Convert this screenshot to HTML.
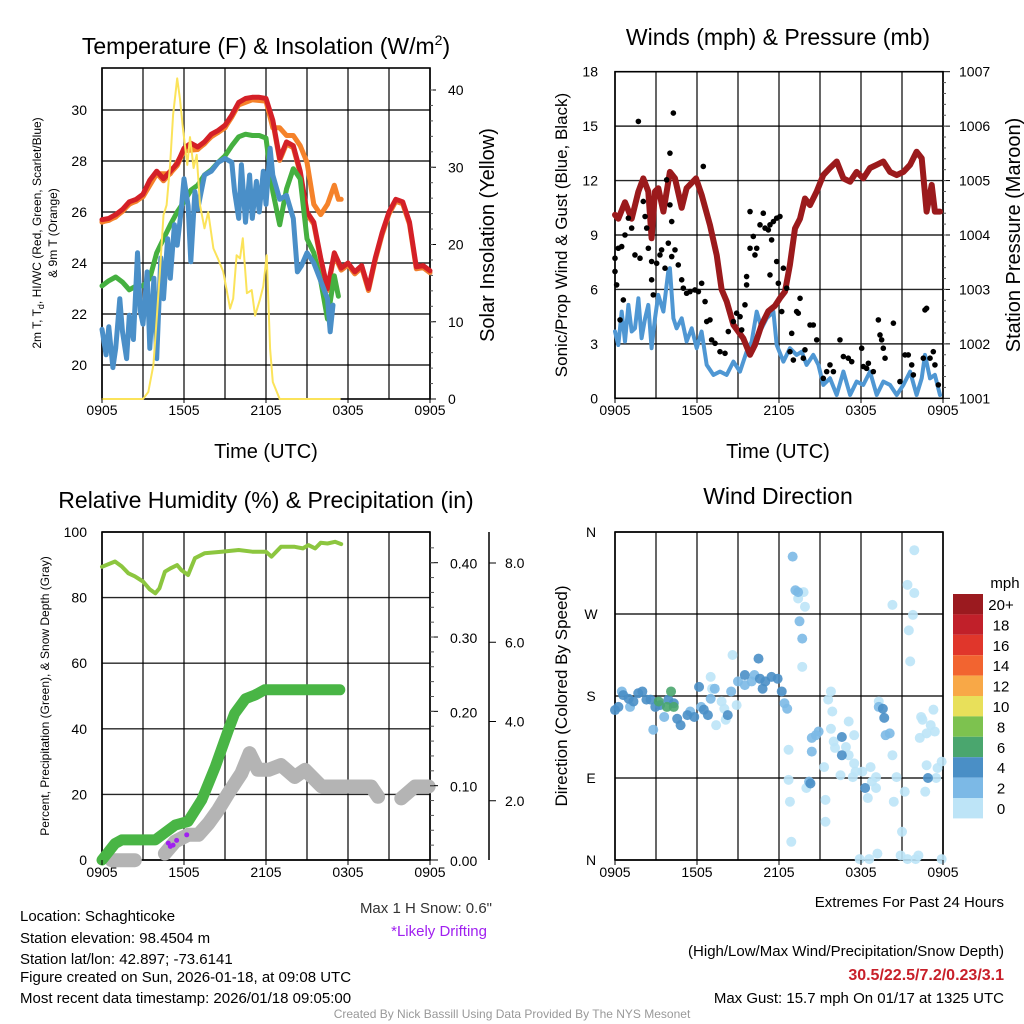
<!DOCTYPE html>
<html><head><meta charset="utf-8"><style>
html,body{margin:0;padding:0;background:#fff;}
svg{display:block;font-family:"Liberation Sans",sans-serif;}
</style></head><body>
<svg id="chart" width="1024" height="1024" viewBox="0 0 1024 1024" xmlns="http://www.w3.org/2000/svg">
<g id="static">
<text x="266" y="54" font-size="23" text-anchor="middle">Temperature (F) &amp; Insolation (W/m<tspan font-size="14" dy="-9">2</tspan><tspan dy="9">)</tspan></text>
<text transform="translate(41,233) rotate(-90)" font-size="12" text-anchor="middle">2m T, T<tspan font-size="9" dy="3">d</tspan><tspan dy="-3">, HI/WC (Red, Green, Scarlet/Blue)</tspan></text>
<text transform="translate(57,233) rotate(-90)" font-size="12" text-anchor="middle">&amp; 9m T (Orange)</text>
<text transform="translate(494,235) rotate(-90)" font-size="20" text-anchor="middle">Solar Insolation (Yellow)</text>
<text x="266" y="458" font-size="20" text-anchor="middle">Time (UTC)</text>
<text x="778" y="45" font-size="23" text-anchor="middle">Winds (mph) &amp; Pressure (mb)</text>
<text transform="translate(567,235) rotate(-90)" font-size="17" text-anchor="middle">Sonic/Prop Wind &amp; Gust (Blue, Black)</text>
<text transform="translate(1020,235) rotate(-90)" font-size="20" text-anchor="middle">Station Pressure (Maroon)</text>
<text x="778" y="458" font-size="20" text-anchor="middle">Time (UTC)</text>
<text x="266" y="508" font-size="23" text-anchor="middle">Relative Humidity (%) &amp; Precipitation (in)</text>
<text transform="translate(49,696) rotate(-90)" font-size="12" text-anchor="middle">Percent, Precipitation (Green), &amp; Snow Depth (Gray)</text>
<text x="492" y="913" font-size="15" text-anchor="end" fill="#333">Max 1 H Snow: 0.6"</text>
<text x="487" y="936" font-size="15" text-anchor="end" fill="#a020f0">*Likely Drifting</text>
<text x="778" y="504" font-size="23" text-anchor="middle">Wind Direction</text>
<text transform="translate(567,696) rotate(-90)" font-size="17" text-anchor="middle">Direction (Colored By Speed)</text>
<text x="1005" y="588" font-size="15" text-anchor="middle">mph</text>
<g font-size="15">
<text x="20" y="921">Location: Schaghticoke</text>
<text x="20" y="943">Station elevation: 98.4504 m</text>
<text x="20" y="964">Station lat/lon: 42.897; -73.6141</text>
<text x="20" y="982">Figure created on Sun, 2026-01-18, at 09:08 UTC</text>
<text x="20" y="1003">Most recent data timestamp: 2026/01/18 09:05:00</text>
</g>
<g font-size="15" text-anchor="end">
<text x="1004" y="907">Extremes For Past 24 Hours</text>
<text x="1004" y="956">(High/Low/Max Wind/Precipitation/Snow Depth)</text>
<text x="1004" y="980" fill="#c8202a" font-weight="bold" font-size="16">30.5/22.5/7.2/0.23/3.1</text>
<text x="1004" y="1003">Max Gust: 15.7 mph On 01/17 at 1325 UTC</text>
</g>
<text x="512" y="1018" font-size="12" text-anchor="middle" fill="#999">Created By Nick Bassill Using Data Provided By The NYS Mesonet</text>
</g>
</svg>
<script>
// ---------- Panel 1 data (hours since 0905 UTC) ----------
const halfHours = [0,0.5,1,1.5,2,2.5,3,3.5,4,4.5,5,5.5,6,6.5,7,7.5,8,8.5,9,9.5,10,10.5,11,11.5,12,12.5,13,13.5,14,14.5,15,15.5,16,16.5,17,17.5,18,18.5,19,19.5,20,20.5,21,21.5,22,22.5,23,23.5,24];
const tempRed = [25.7,25.75,25.9,26.1,26.4,26.5,26.7,27.25,27.6,27.3,27.6,27.9,28.5,28.7,28.55,28.75,29.05,29.2,29.4,29.8,30.3,30.45,30.5,30.5,30.45,29.6,28.1,28.75,28.6,27.6,26.0,25.6,24.2,23.0,24.4,23.8,24.0,23.65,23.9,23.0,24.2,25.2,26.0,26.5,26.4,25.6,23.85,23.9,23.7];
const orangeTimes = [0,1,2,3,4,5,6,7,8,9,10,11,12,12.5,13,13.5,14,14.5,15,15.5,16,16.5,17,17.3,17.5];
const tempOrange = [25.6,25.8,26.3,26.6,27.5,27.5,28.4,28.45,28.95,29.3,30.2,30.4,30.35,29.3,29.3,29.0,29.0,28.6,27.95,26.3,25.9,26.3,27.05,26.5,26.5];
const dewTimes = [0,0.5,1,1.5,2,2.5,3,3.5,4,4.5,5,5.5,6,6.5,7,7.5,8,8.5,9,9.5,10,10.5,11,11.5,12,12.5,13,13.5,14,14.5,15,15.5,16,16.5,17,17.3];
const dewGreen = [23.1,23.3,23.45,23.25,22.95,23.1,23.1,23.4,24.4,24.95,25.5,26.0,26.4,26.85,27.05,27.45,27.65,27.95,28.2,28.6,28.95,29.05,29.0,29.0,28.9,26.8,25.5,26.9,27.7,27.3,24.95,24.4,23.3,21.8,23.5,22.7];
const wcTimes = [0,0.3,0.5,0.8,1,1.3,1.5,1.8,2,2.3,2.6,2.8,3,3.3,3.5,3.8,4,4.3,4.5,4.8,5,5.3,5.5,5.8,6,6.3,6.5,6.8,7,7.5,8,8.5,9,9.5,9.7,10,10.2,10.5,10.8,11,11.3,11.5,11.8,12,12.3,12.5,13,13.5,14,14.3,14.6,15,15.5,16,16.5,16.7,16.9];
const wcBlue = [21.4,20.4,21.5,19.9,20.65,22.6,21.3,20.25,21.95,21.0,24.4,22.1,21.6,23.65,20.65,23.4,20.25,24.2,22.6,24.95,23.4,25.5,24.7,26.1,27.3,26.25,24.05,26.8,26.1,27.45,27.6,27.95,28.1,27.95,26.8,25.75,27.85,25.6,27.45,25.75,27.2,26.0,27.6,26.3,28.5,27.45,26.5,26.65,25.75,23.65,23.9,24.4,24.0,23.3,22.6,21.3,22.35];
const solarTimes = [0,3.0,3.39,3.76,4.0,4.24,4.5,4.73,4.98,5.2,5.5,5.7,5.95,6.24,6.44,6.7,6.93,7.17,7.5,7.77,8.15,8.5,8.87,9.37,9.6,9.85,10.1,10.3,10.6,10.95,11.2,11.56,11.8,12.05,12.3,12.5,13.0,17.4];
const solarVals = [0,0,0.9,4.4,10.4,16.5,23.8,25.1,30.3,36.8,41.5,38.9,34.6,30.3,33.9,29.9,31.6,25.1,22.1,24.2,19.5,18.1,16.5,11.7,13.0,18.6,18.2,20.8,13.7,14.1,10.8,12.9,14.6,18.6,6.5,2.2,0,0];
const tempTicks = [20,22,24,26,28,30];
const solarTicks = [0,10,20,30,40];
const timeLabels = ["0905","1505","2105","0305","0905"];

// ---------- Panel 2 data ----------
const presTimes = [0,0.24,0.73,1.22,1.71,2.07,2.44,2.68,2.93,3.17,3.54,4.02,4.39,4.88,5.24,5.93,6.34,6.95,7.44,7.8,8.17,8.66,9.39,9.88,10.24,10.73,11.22,11.71,12.07,12.44,12.8,13.17,13.54,13.9,14.27,14.76,15.24,15.73,16.22,16.71,17.2,17.68,18.17,18.66,19.15,19.63,20.12,20.61,21.1,21.59,22.07,22.44,22.8,23.17,23.41,23.78];
const presVals = [1004.37,1004.3,1004.6,1004.3,1004.8,1005.04,1004.8,1003.94,1004.8,1004.86,1004.43,1005.16,1005.04,1004.5,1004.86,1005.04,1004.74,1004.18,1003.63,1003.0,1002.78,1002.35,1002.1,1001.8,1001.98,1002.35,1002.6,1002.7,1002.84,1002.96,1003.45,1004.12,1004.3,1004.67,1004.55,1004.8,1005.1,1005.23,1005.35,1005.04,1004.98,1005.16,1005.04,1005.23,1005.29,1005.35,1005.16,1005.1,1005.16,1005.29,1005.53,1005.41,1004.43,1004.92,1004.43,1004.43];
const windTimes = [0,0.24,0.49,0.73,0.98,1.22,1.46,1.71,1.95,2.2,2.44,2.68,2.93,3.17,3.54,3.9,4.02,4.27,4.51,4.88,5.24,5.61,5.98,6.34,6.71,7.2,7.68,8.17,8.66,9.15,9.63,10.0,10.37,10.73,11.1,11.59,11.83,12.32,12.8,13.29,13.66,14.02,14.51,14.88,15.24,15.73,16.22,16.71,17.2,17.68,18.17,18.66,19.15,19.63,20.12,20.61,21.1,21.59,22.07,22.44,22.68,23.05,23.41,23.78];
const windVals = [3.68,2.94,4.78,3.13,5.15,3.68,3.86,5.51,3.31,4.41,5.15,2.76,4.41,5.7,4.78,7.0,7.17,4.41,3.86,4.41,3.13,3.86,2.76,3.68,1.84,1.29,1.47,1.29,2.02,1.47,2.57,3.13,4.78,3.86,4.41,4.78,2.94,2.02,2.76,2.39,2.57,1.84,2.39,1.84,0.74,1.1,0.18,1.47,0.18,0.92,0.74,1.47,0.18,0.92,0.74,0.18,0.74,1.47,0.18,1.1,2.39,1.1,1.29,0.18];
const gustTimes = [1.71,4.27,4.02,6.46,0,0,0.12,0.24,0.49,0.73,0.61,0.37,0.98,1.22,1.46,1.83,2.07,2.2,2.32,2.44,2.68,2.68,2.8,3.05,3.29,3.41,3.66,3.78,3.9,4.02,4.15,4.15,4.39,4.63,4.88,5.0,5.24,5.49,5.85,6.1,6.34,6.59,6.71,6.95,7.07,7.32,7.68,8.05,8.29,8.66,8.9,9.15,9.27,9.51,9.63,9.63,9.88,9.88,10.12,10.24,10.37,10.61,10.85,10.98,11.22,11.34,11.59,11.83,12.07,11.46,11.83,11.34,11.95,12.32,12.56,12.2,12.93,13.29,13.54,13.41,14.27,14.51,14.76,13.9,13.78,12.8,13.05,15.24,15.49,15.73,15.98,16.46,16.71,17.07,17.32,18.05,18.17,18.41,18.54,18.9,19.27,19.39,19.51,19.63,19.76,20.37,20.85,21.22,21.46,21.71,21.83,22.56,22.68,22.8,23.05,23.29,23.41,23.66];
const gustVals = [15.26,15.72,13.51,12.78,7.72,6.99,6.25,8.27,8.36,9.0,5.42,4.32,9.93,9.38,7.9,7.72,10.85,10.02,9.38,8.27,7.54,6.53,5.7,7.44,7.9,8.18,7.17,12.04,8.55,10.66,9.74,7.81,8.18,7.35,6.53,6.07,5.79,5.88,5.97,5.88,6.34,5.33,4.23,4.32,3.22,3.03,2.57,2.48,3.68,4.23,4.69,4.5,3.77,5.15,6.71,6.25,10.29,8.27,8.92,7.9,8.27,9.56,10.2,9.38,9.28,9.56,9.74,9.93,10.02,8.73,7.54,6.8,6.34,7.17,6.07,4.78,3.58,4.78,5.51,4.69,4.04,4.04,3.22,2.67,2.21,2.57,2.11,1.1,1.47,1.84,1.47,3.22,2.3,2.21,2.02,2.76,1.75,1.65,1.93,1.47,4.32,3.49,3.22,2.76,2.21,4.14,0.92,2.39,2.39,1.84,1.29,2.21,4.87,4.96,2.21,2.57,1.84,0.74];
const windTicks = [0,3,6,9,12,15,18];
const presTicks = [1001,1002,1003,1004,1005,1006,1007];

// ---------- Panel 3 data ----------
const rhTimes = [0,0.95,1.44,1.93,2.4,3.0,3.5,3.9,4.2,4.6,5.0,5.5,5.8,6.3,6.8,7.5,8.75,10,11,12,12.4,13.1,14.1,14.7,15.1,15.6,16,16.5,17.05,17.5];
const rhVals = [89.4,91,89.5,87.4,86.5,84.9,82.5,81.3,82.8,87.9,88.9,89.9,88.4,86.9,92,93.5,94,94.5,94,94,92.5,95.5,95.5,95,96,95,96.7,96.5,97,96.3];
const precipTimes = [0,0.95,1.44,3.9,5.35,6.3,7.3,8.3,9.25,9.7,10.5,11.2,11.9,17.4];
const precipVals = [0,0.022,0.027,0.027,0.047,0.052,0.081,0.126,0.175,0.197,0.217,0.222,0.229,0.229];
const snowTimesA = [0.7,2.4];
const snowValsA = [0.5,0.5];
const snowTimesB = [4.6,5.35,6.3,7.05,7.8,8.5,9.25,10.2,10.8,11.4,12.2,13.1,14.1,14.85,16.07,19.7,20.2];
const snowValsB = [0.67,0.97,1.14,1.14,1.43,1.77,2.19,2.69,3.2,2.78,2.78,2.9,2.6,2.78,2.36,2.36,2.1];
const snowTimesC = [21.9,22.9,23.9];
const snowValsC = [2.06,2.36,2.36];
const driftTimes = [4.85,5.0,5.2,5.46,6.2];
const driftVals = [0.93,0.85,0.88,1.0,1.14];
const pctTicks = [0,20,40,60,80,100];
const precipTicks = [0,0.1,0.2,0.3,0.4];
const precipTickLabels = ["0.00","0.10","0.20","0.30","0.40"];
const snowTicks = [2,4,6,8];
const snowTickLabels = ["2.0","4.0","6.0","8.0"];

// ---------- Panel 4 data ----------
const dirTimes = [0,0.25,0.6,1.0,1.35,1.7,2.0,2.3,2.6,2.95,3.3,3.9,4.3,4.55,4.8,5.3,5.8,6.5,6.8,8.25,10.5,10.6,11.0,11.45,11.9,12.2,6.15,10.8,9.5,16.6,16.6,19.6,19.7,22.9,18.3,14.3,
 3.2,4.1,3.8,4.3,
 0.5,1.1,2.8,3.6,5.5,6.3,7.0,7.3,8.5,9.0,9.5,10.0,10.2,12.4,12.6,13.0,13.2,13.5,13.7,13.4,14.4,14.7,14.9,14.4,14.2,19.3,19.8,20.1,
 7.0,7.1,7.8,8.0,8.6,8.9,7.4,8.1,13.8,13.4,13.9,13.7,15.8,15.6,15.9,15.8,17.1,17.5,16.0,16.1,16.9,17.1,17.5,17.6,18.1,18.7,19.1,18.8,19.1,18.5,17.4,16.5,15.3,15.4,15.4,12.7,12.7,12.8,12.9,14.0,17.9,18.6,19.2,20.4,20.3,20.6,21.2,21.0,20.9,21.4,22.2,22.0,23.9,20.3,21.4,21.9,21.9,21.8,21.5,21.6,19.3,22.4,22.5,23.3,23.4,23.1,22.8,22.3,22.8,23.9,23.6,23.5,22.7];
const dirDegs = [164.6,168,181,177,174,183,185,176,176,168,170,176,172,155,148,159,157,165,159,159,221,199,196,201,199,185,190,188,203,135,115,166,156,90,79,84,
 174,185,168,168,
 185,168,143,157,163,168,177,188,185,196,192,196,203,172,166,333,296,262,243,294,134,137,141,119,86,168,137,139,
 201,188,174,166,225,170,148,154,294,287,278,212,185,176,163,144,152,137,130,123,124,115,106,97,97,102,91,86,79,68,91,93,102,66,42,121,88,64,20,79,1,1,7,64,115,91,75,31,5,1,5,1,1,280,302,340,293,269,252,218,174,157,154,165,141,148,139,134,104,108,101,90,75];
const dirSpeeds = [4,4,4,4,4,4,4,4,4,4,4,4,4,4,4,4,4,4,4,4,4,4,4,4,4,4,4,4,4,4,4,4,4,4,4,4,
 6,6,6,6,
 2,2,2,2,2,2,2,2,2,2,2,2,2,2,2,2,2,2,2,2,2,2,2,2,2,2,2,2,
 0,0,0,0,0,0,0,0,0,0,0,0,0,0,0,0,0,0,0,0,0,0,0,0,0,0,0,0,0,0,0,0,0,0,0,0,0,0,0,0,0,0,0,0,0,0,0,0,0,0,0,0,0,0,0,0,0,0,0,0,0,0,0,0,0,0,0,0,0,0,0,0,0];
const dirTicks = [0,90,180,270,360];
const dirTickLabels = ["N","E","S","W","N"];
const cbLabels = ["20+","18","16","14","12","10","8","6","4","2","0"];
const cbColors = ["#9b1a1f","#c1202a","#e0362b","#f26430","#f8a847","#e8e05a","#7dc24f","#4aa66e","#4a8fc6","#7cb9e6","#bde4f7"];

// ---------- drawing ----------
const NS="http://www.w3.org/2000/svg";
const svg=document.getElementById('chart');
function mk(tag,attrs,parent){const e=document.createElementNS(NS,tag);for(const k in attrs)e.setAttribute(k,attrs[k]);(parent||svg).appendChild(e);return e;}
function lin(d0,d1,r0,r1){return v=>r0+(v-d0)*(r1-r0)/(d1-d0);}
function poly(ts,vs,xs,ys,color,w,name,parent){
  const pts=ts.map((t,i)=>xs(t).toFixed(1)+','+ys(vs[i]).toFixed(1)).join(' ');
  const p=mk('polyline',{points:pts,fill:'none',stroke:color,'stroke-width':w,'stroke-linejoin':'round','stroke-linecap':'round'},parent);
  
  
  return p;
}
function grid(x0,x1,y0,y1,xs,ys,ysVals,g){
  for(let h=0;h<=24;h+=3){const l=mk('line',{x1:xs(h),x2:xs(h),y1:y0,y2:y1,stroke:'#000','stroke-width':1.4,'stroke-opacity':0.85},g);
    
    }
  ysVals.forEach(v=>{const l=mk('line',{x1:x0,x2:x1,y1:ys(v),y2:ys(v),stroke:'#000','stroke-width':1.4,'stroke-opacity':0.85},g);
    
    });
  const r=mk('rect',{x:x0,y:y1,width:x1-x0,height:y0-y1,fill:'none',stroke:'#000','stroke-width':1.6},g);
  
  
}
function txt(x,y,s,anchor,size,g,name,fill){const t=mk('text',{x:x,y:y,'text-anchor':anchor,'font-size':size,fill:fill||'#000'},g);t.textContent=s;
  
  
  return t;}
function xTicks(xs,y,g){timeLabels.forEach((s,i)=>{txt(xs(i*6),y,s,'middle',14,g,'x-tick-label');
  mk('line',{x1:xs(i*6),x2:xs(i*6),y1:y-17,y2:y-12,stroke:'#000'},g);});}

// Panel 1
(function(){
  const g=mk('g',{});
  const xs=lin(0,24,102,430), ys=lin(20,30,365,110), ysol=lin(0,40,399,90);
  grid(102,430,399,68,xs,ys,tempTicks,g);
  poly(halfHours,tempRed,xs,ys,'#f08030',5,'temp-9m-orange-under',g).setAttribute('transform','translate(0,2)');
  poly(orangeTimes,tempOrange,xs,ys,'#f5822a',5,'temp-9m-line',g);
  poly(halfHours,tempRed,xs,ys,'#d42027',5,'temp-2m-line',g);
  poly(dewTimes,dewGreen,xs,ys,'#45b040',5,'dewpoint-line',g);
  poly(wcTimes,wcBlue,xs,ys,'#4a8fc8',5,'windchill-line',g);
  poly(solarTimes,solarVals,xs,ysol,'#fbe35a',2,'insolation-line',g);
  tempTicks.forEach(v=>txt(87,ys(v)+5,String(v),'end',14,g,'temp-tick-label'));
  solarTicks.forEach(v=>{txt(448,ysol(v)+5,String(v),'start',14,g,'solar-tick-label');mk('line',{x1:430,x2:436,y1:ysol(v),y2:ysol(v),stroke:'#000'},g);});
  for(let v=2;v<42;v+=2){mk('line',{x1:430,x2:433,y1:ysol(v),y2:ysol(v),stroke:'#555'},g);}
  xTicks(xs,415,g);
})();

// Panel 2
(function(){
  const g=mk('g',{});
  const xs=lin(0,24,615,943), ys=lin(0,18,398.3,71.7), yp=lin(1001,1007,398.3,71.7);
  grid(615,943,398.3,71.7,xs,ys,windTicks,g);
  poly(windTimes,windVals,xs,ys,'#4f97d3',4,'sustained-wind-line',g);
  poly(presTimes,presVals,xs,yp,'#9b1a1c',6,'pressure-line',g);
  gustTimes.forEach((t,i)=>{const c=mk('circle',{cx:xs(t),cy:ys(gustVals[i]),r:2.8,fill:'#000'},g);
    
    });
  windTicks.forEach(v=>txt(598,ys(v)+5,String(v),'end',14,g,'wind-tick-label'));
  presTicks.forEach(v=>{txt(959,yp(v)+5,String(v),'start',14,g,'pressure-tick-label');mk('line',{x1:943,x2:950,y1:yp(v),y2:yp(v),stroke:'#000'},g);});
  for(let v=1001.2;v<1007;v+=0.2){mk('line',{x1:943,x2:946,y1:yp(v),y2:yp(v),stroke:'#555'},g);}
  xTicks(xs,415,g);
})();

// Panel 3
(function(){
  const g=mk('g',{});
  const xs=lin(0,24,102,430), ys=lin(0,100,860,532), yp=lin(0,0.4,860,562.7), ysn=lin(0,8,880,563);
  grid(102,430,860,532,xs,ys,pctTicks,g);
  [[snowTimesA,snowValsA],[snowTimesB,snowValsB],[snowTimesC,snowValsC]].forEach(a=>poly(a[0],a[1],xs,ysn,'#b4b4b4',14,'snow-depth-line',g));
  driftTimes.forEach((t,i)=>{const c=mk('circle',{cx:xs(t),cy:ysn(driftVals[i]),r:2.5,fill:'#a020f0'},g);
    
    });
  poly(precipTimes,precipVals,xs,yp,'#49b545',11,'precipitation-line',g);
  poly(rhTimes,rhVals,xs,ys,'#8cc63f',4,'relative-humidity-line',g);
  pctTicks.forEach(v=>txt(87,ys(v)+5,String(v),'end',14,g,'percent-tick-label'));
  precipTicks.forEach((v,i)=>{txt(450,yp(v)+6,precipTickLabels[i],'start',14,g,'precip-tick-label');mk('line',{x1:430,x2:438,y1:yp(v),y2:yp(v),stroke:'#000'},g);});
  for(let v=0.02;v<0.44;v+=0.02){mk('line',{x1:430,x2:434,y1:yp(v),y2:yp(v),stroke:'#555'},g);}
  mk('line',{x1:489,x2:489,y1:532,y2:860,stroke:'#000','stroke-width':1.5},g);
  snowTicks.forEach((v,i)=>{txt(505,ysn(v)+5,snowTickLabels[i],'start',14,g,'snow-tick-label');mk('line',{x1:489,x2:496,y1:ysn(v),y2:ysn(v),stroke:'#000'},g);});
  xTicks(xs,877,g);
})();

// Panel 4
(function(){
  const g=mk('g',{});
  const xs=lin(0,24,615,943), ys=lin(0,360,860,532);
  grid(615,943,860,532,xs,ys,dirTicks,g);
  const colorFor=s=>cbColors[10-Math.min(10,Math.floor(s/2))];
  const order=dirTimes.map((t,i)=>i).sort((a,b)=>dirSpeeds[a]-dirSpeeds[b]);
  order.forEach(i=>{const c=mk('circle',{cx:xs(dirTimes[i]),cy:ys(dirDegs[i]),r:5,fill:colorFor(dirSpeeds[i]),'fill-opacity':0.9},g);
    
    });
  dirTicks.forEach((v,i)=>txt(591,ys(v)+5,dirTickLabels[i],'middle',14,g,'direction-tick-label'));
  xTicks(xs,877,g);
  cbColors.forEach((c,i)=>{const r=mk('rect',{x:953,y:594+i*20.4,width:30,height:20.4,fill:c},g);
    
    
    txt(1001,594+i*20.4+16,cbLabels[i],'middle',15,g,'colorbar-label');});
})();
</script>
</body></html>
